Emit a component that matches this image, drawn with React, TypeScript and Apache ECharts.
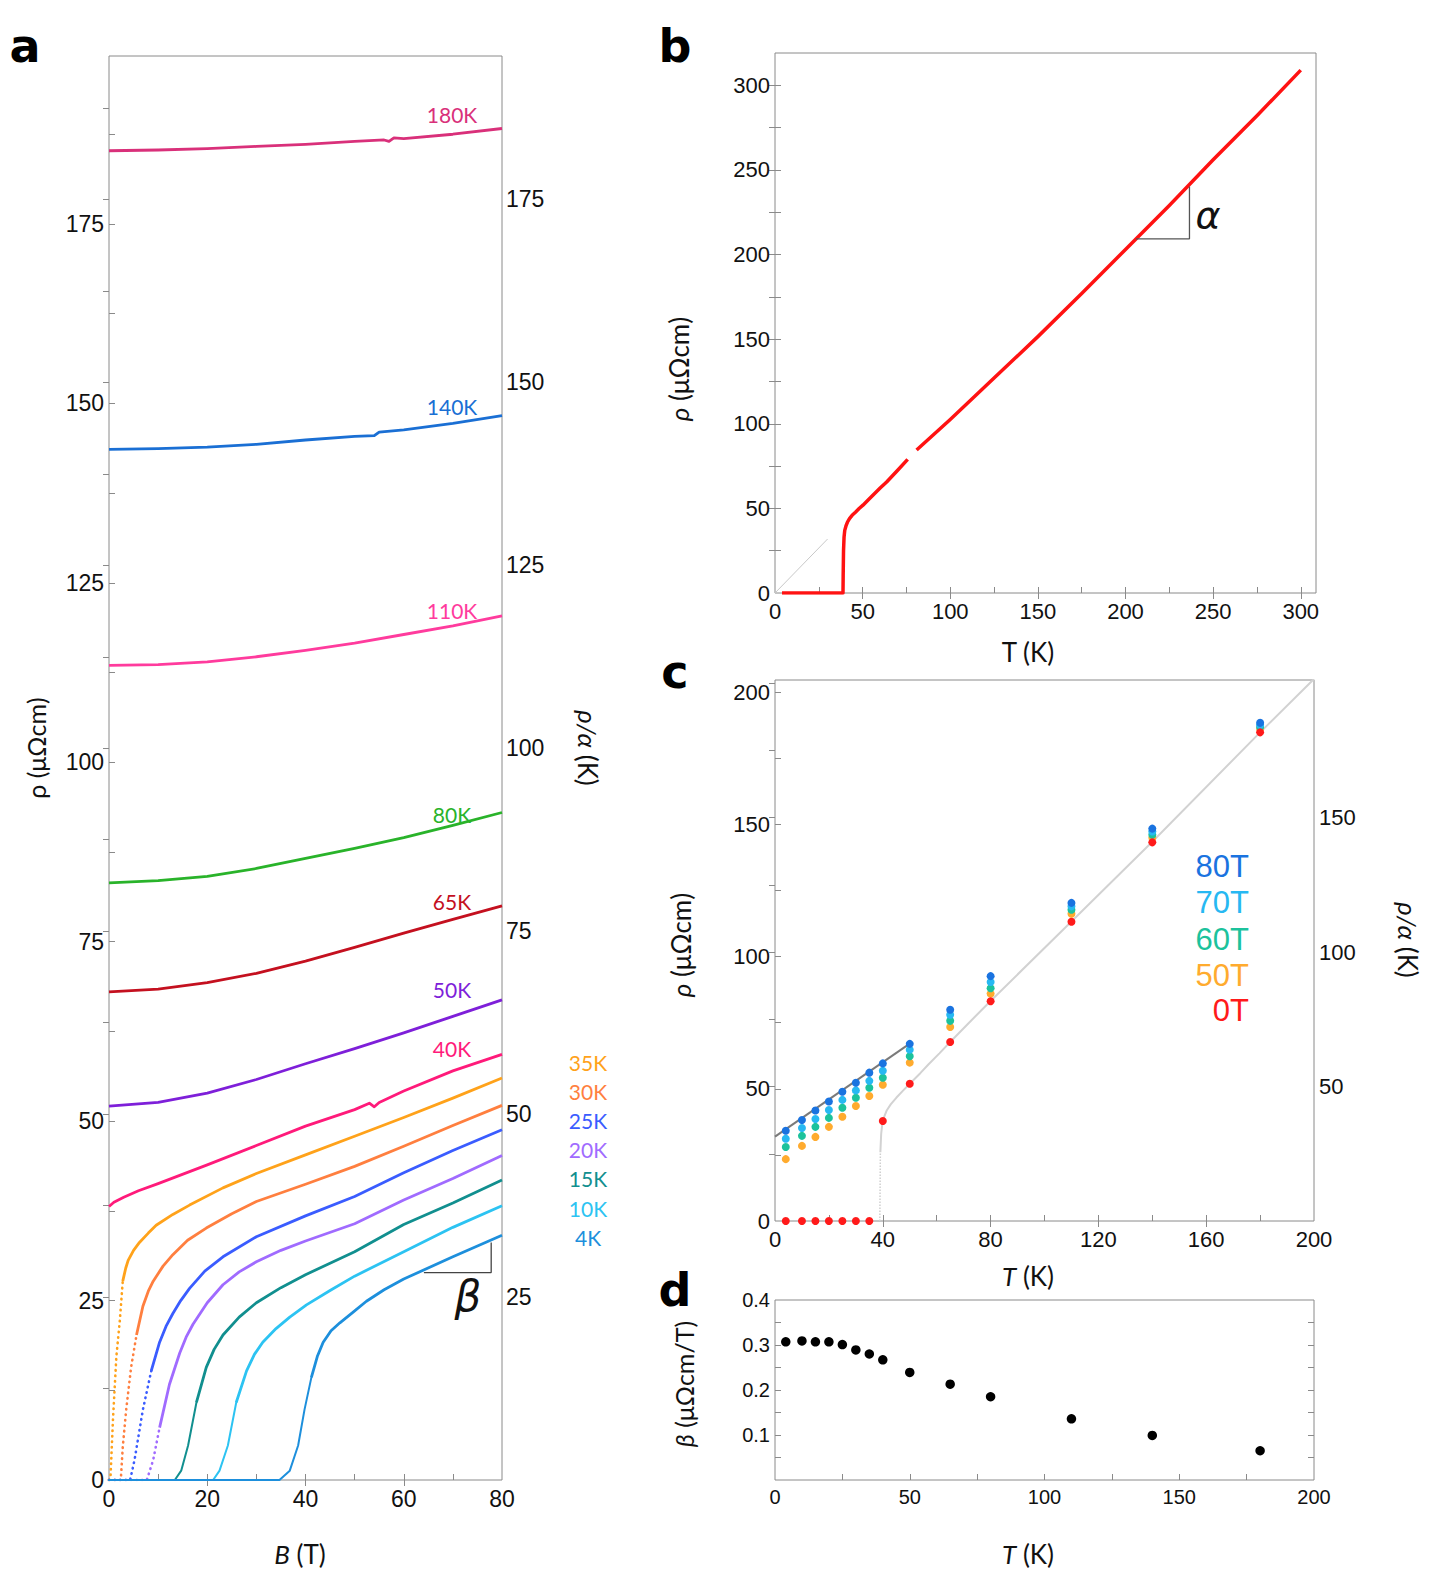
import React, { useEffect, useRef } from 'react';
import * as echarts from 'echarts';

const W = 1442;
const H = 1584;

// ---------- Panel a : rho vs B at fixed T ----------
const aCurve180: number[][] = [[0,185.2],[10,185.3],[20,185.5],[30,185.8],[40,186.1],[50,186.5],[56,186.7],[57,186.5],[58,187.0],[60,186.9],[70,187.5],[80,188.3]];
const aCurve140: number[][] = [[0,143.6],[10,143.7],[20,143.9],[30,144.3],[40,144.9],[50,145.4],[54,145.5],[55,146.0],[60,146.3],[70,147.2],[80,148.3]];
const aCurve110: number[][] = [[0,113.5],[10,113.6],[20,114.0],[30,114.7],[40,115.6],[50,116.6],[60,117.8],[70,119.0],[80,120.4]];
const aCurve80: number[][] = [[0,83.2],[10,83.5],[20,84.1],[30,85.2],[40,86.6],[50,88.0],[60,89.5],[70,91.2],[80,93.0]];
const aCurve65: number[][] = [[0,68.0],[10,68.4],[20,69.3],[30,70.6],[40,72.3],[50,74.2],[60,76.2],[70,78.1],[80,80.0]];
const aCurve50: number[][] = [[0,52.1],[10,52.6],[20,53.9],[30,55.8],[40,58.0],[50,60.1],[60,62.3],[70,64.6],[80,66.9]];
const aCurve40: number[][] = [[0,38.1],[1,38.7],[3,39.4],[6,40.3],[10,41.3],[20,43.9],[30,46.6],[40,49.3],[50,51.6],[53,52.5],[54,52.0],[55,52.6],[60,54.2],[70,57.0],[80,59.3]];
const aCurve35: number[][] = [[0,0],[0.3,0.3],[0.8,8.3],[1.5,17.2],[2.2,22.2],[2.8,27.7],[3.4,29.5],[3.9,30.6],[5,32.0],[6.2,33.1],[8,34.4],[9.6,35.5],[13,37.0],[16.4,38.3],[23.2,40.7],[30,42.7],[40,45.3],[50,47.9],[60,50.5],[70,53.2],[80,56.0]];
const aCurve30: number[][] = [[0,0],[2.4,0],[2.8,4.6],[3.5,9.8],[4.5,15.7],[5.6,20.2],[6.9,24.2],[8,26.3],[9,27.7],[11,29.8],[13,31.4],[16,33.4],[19.8,35.1],[25,37.1],[30,38.8],[40,41.2],[50,43.7],[60,46.5],[70,49.4],[80,52.2]];
const aCurve25: number[][] = [[0,0],[4.3,0],[5.2,2.8],[6.9,9.8],[8.6,15.2],[10.3,19.2],[11.6,21.4],[13,23.2],[14.6,25.0],[16.4,26.7],[19.5,29.1],[23.2,31.1],[30,33.9],[40,36.8],[50,39.5],[60,42.8],[70,45.9],[80,48.8]];
const aCurve20: number[][] = [[0,0],[7.7,0],[9,2.8],[10.3,7.3],[12.3,13.3],[14.4,17.7],[15.7,19.9],[17.1,21.7],[20,24.7],[23.2,27.2],[26.5,29.0],[30,30.4],[35,32.0],[40,33.3],[50,35.7],[60,39.0],[70,42.0],[80,45.2]];
const aCurve15: number[][] = [[0,0],[13.4,0],[14.7,1.3],[16.1,4.8],[17.8,10.8],[19.8,15.7],[21.4,18.2],[23.2,20.2],[26.5,22.7],[30,24.7],[35,26.8],[40,28.6],[50,31.8],[60,35.6],[70,38.6],[80,41.8]];
const aCurve10: number[][] = [[0,0],[21.2,0],[22.5,1.3],[24.2,4.8],[25.9,10.8],[28,15.2],[29.6,17.5],[31.3,19.2],[34,21.1],[36.8,22.7],[40.2,24.4],[45,26.4],[50,28.4],[60,31.8],[70,35.2],[80,38.2]];
const aCurve4: number[][] = [[0,0],[34.7,0],[36.8,1.3],[38.5,4.8],[39.8,9.8],[41.2,14.3],[42.4,17.2],[43.6,19.2],[45.2,20.8],[47,21.9],[49.7,23.4],[52.4,24.9],[56,26.5],[60,28.0],[70,31.1],[80,34.1]];
const aBetaMark: number[][] = [[64.1,28.9],[77.8,28.9],[77.8,33.1]];

const aNames = ['180K','140K','110K','80K','65K','50K','40K','35K','30K','25K','20K','15K','10K','4K'];
const aColors = ['#d9307a','#1a6fd4','#ff3b9d','#29b32a','#c4101f','#7e1fd9','#ff1a7a','#ffa21a','#ff7f3f','#3a5cff','#a06bff','#118f8f','#2cc3f2','#1d8fdc'];
const aCurves = [aCurve180,aCurve140,aCurve110,aCurve80,aCurve65,aCurve50,aCurve40,aCurve35,aCurve30,aCurve25,aCurve20,aCurve15,aCurve10,aCurve4];
// index (within each curve) where the sparse, dotted-looking steep onset ends; 0 = none
const aSteepEnd = [0,0,0,0,0,0,0,5,5,4,3,4,4,5];

const aXLabels = [0,20,40,60,80];
const aXTicks = [10,20,30,40,50,60,70];
const aTopTicks = [20,40,60];
const aYLabels = [0,25,50,75,100,125,150,175];
const aYTicks = [12.5,25,37.5,50,62.5,75,87.5,100,112.5,125,137.5,150,162.5,175,187.5];
const aY2Labels = [25,50,75,100,125,150,175];
const aY2Ticks = [12.5,25,37.5,50,62.5,75,87.5,100,112.5,125,137.5,150,162.5,175,187.5];

// ---------- Panel b : rho vs T at 0 T ----------
const bLow: number[][] = [[4,0],[20,0],[38.8,0],[38.9,10],[39.1,25],[39.4,33],[39.8,37.0],[40.5,39.6],[41.3,41.8],[42.5,44.0],[44,45.9],[45.9,47.7],[48,49.9],[50.2,51.9],[53,54.8],[56,57.9],[60,62.0],[63.7,65.6],[70,72.5],[75.7,79.0]];
const bHigh: number[][] = [[80.8,84.5],[100,102.5],[125,127],[150,151.5],[175,177],[200,203],[225,229],[250,256],[275,282],[300,309]];
const bGuide: number[][] = [[0,0],[30,31.9]];
const bAlphaMark: number[][] = [[206,209.3],[236.5,209.3],[236.5,240.2]];
const bXLabels = [0,50,100,150,200,250,300];
const bXTicks = [25,50,75,100,125,150,175,200,225,250,275,300];
const bTopTicks = [50,100,150,200,250,300];
const bYLabels = [0,50,100,150,200,250,300];
const bYTicks = [25,50,75,100,125,150,175,200,225,250,275,300];

// ---------- Panel c : rho vs T at fixed B ----------
const cT = [4,10,15,20,25,30,35,40,50,65,80,110,140,180];
const c80T = [34.1,38.2,41.8,45.2,48.9,52.3,56.1,59.6,67.0,79.9,92.6,120.3,148.4,188.4];
const c70T = [31.1,35.2,38.6,42.0,45.8,49.4,53.0,56.8,64.8,78.0,90.4,119.0,147.3,187.6];
const c60T = [28.0,32.2,35.6,39.0,42.8,46.6,50.4,54.2,62.3,75.7,88.0,117.7,146.1,186.8];
const c50T = [23.4,28.4,31.8,35.6,39.4,43.5,47.3,51.5,59.9,73.4,86.0,116.2,144.9,186.1];
const c0T = [0,0,0,0,0,0,0,37.8,51.9,67.7,83.1,113.2,143.2,184.8];
const cZeroFieldDotted: number[][] = [[38.9,0],[39.1,26]];
const cZeroFieldLine: number[][] = [[39.1,26],[39.4,33],[39.8,36.6],[40.5,39.4],[41.5,41.9],[43,44.2],[45,46.6],[47.5,49.3],[50,51.9],[54,56.0],[57,59.3],[61,63.4],[65,67.7],[72,75.0],[80,83.2],[110,113.3],[140,143.4],[180,184.8],[200,205]];
const cFitLine: number[][] = [[0,31.9],[50,67.1]];
const cXLabels = [0,40,80,120,160,200];
const cXTicks = [20,40,60,80,100,120,140,160,180];
const cTopTicks = [40,80,120,160];
const cYLabels = [0,50,100,150,200];
const cYTicks = [25,50,75,100,125,150,175,200];
const cY2Labels = [50,100,150];
const cY2Ticks = [25,50,75,100,125,150,175,200];
const cFieldNames = ['80T','70T','60T','50T','0T'];
const cFieldColors = ['#1a73e0','#27b8f2','#1cc29c','#ffab2e','#ff1a1a'];

// ---------- Panel d : beta vs T ----------
const dT = [4,10,15,20,25,30,35,40,50,65,80,110,140,180];
const dBeta = [0.307,0.309,0.307,0.307,0.301,0.289,0.280,0.267,0.239,0.213,0.185,0.136,0.099,0.065];
const dXLabels = [0,50,100,150,200];
const dXTicks = [25,50,75,100,125,150,175];
const dYLabels = [0.1,0.2,0.3,0.4];
const dYTicks = [0.05,0.1,0.15,0.2,0.25,0.3,0.35];

const FT = "'Liberation Sans', Arial, Helvetica, sans-serif";
const FN = "'Liberation Sans Narrow', 'Liberation Sans', Arial, sans-serif";
const FL = "Lato, 'Open Sans', 'Liberation Sans', sans-serif";
const AX = '#8a8a8a';

function axis(gridIndex: number, min: number, max: number, position: string,
  labels: number[] | null, ticks: number[], font: string, fontSize: number, margin: number, fmt?: (v: number) => string) {
  const a: any = {
    type: 'value', gridIndex, min, max, position,
    axisLine: { show: false },
    splitLine: { show: false },
    axisTick: { show: true, inside: true, length: 6, lineStyle: { color: AX, width: 1 }, customValues: ticks },
    axisLabel: labels
      ? { show: true, customValues: labels, color: '#111', fontSize, fontFamily: font, margin, formatter: fmt ? fmt : (v: number) => String(v) }
      : { show: false },
  };
  return a;
}

function pairs(xs: number[], ys: number[]) {
  return xs.map((x, i) => [x, ys[i]]);
}

function txt(x: number, y: number, text: string, size: number, color: string, font: string, opts: any = {}) {
  return {
    type: 'text', x, y, rotation: opts.rotation || 0, silent: true, z: 100,
    style: {
      text, fill: color, fontSize: size, fontFamily: font,
      fontStyle: opts.italic ? 'italic' : 'normal', fontWeight: opts.bold ? 'bold' : 'normal',
      align: opts.align || 'center', verticalAlign: 'middle',
      rich: opts.rich,
    },
  };
}

const richIt = (size: number, font: string) => ({
  i: { fontStyle: 'italic', fontSize: size, fontFamily: font, fill: '#111' },
  n: { fontSize: size, fontFamily: font, fill: '#111' },
});

export default function App() {
  const ref = useRef<HTMLDivElement>(null);

  useEffect(() => {
    if (!ref.current) return;
    const chart = echarts.init(ref.current, null, { renderer: 'svg' });

    const grids = [
      { left: 109, top: 56, width: 393, height: 1424 },
      { left: 775, top: 53, width: 541, height: 540 },
      { left: 775, top: 680, width: 539, height: 541 },
      { left: 775, top: 1300, width: 539, height: 180 },
    ].map(g => ({ ...g, show: true, borderColor: AX, borderWidth: 1, backgroundColor: 'transparent', containLabel: false }));

    const xAxis = [
      axis(0, 0, 80, 'bottom', aXLabels, aXTicks, FT, 23, 7),
      axis(0, 0, 80, 'top', null, aTopTicks, FT, 23, 8),
      axis(1, 0, 308.7, 'bottom', bXLabels, bXTicks, FT, 22, 7),
      axis(1, 0, 308.7, 'top', null, bTopTicks, FT, 22, 8),
      axis(2, 0, 200, 'bottom', cXLabels, cXTicks, FN, 22, 7),
      axis(2, 0, 200, 'top', null, cTopTicks, FN, 22, 8),
      axis(3, 0, 200, 'bottom', dXLabels, dXTicks, FN, 20, 7),
    ];
    const yAxis = [
      axis(0, 0, 198.4, 'left', aYLabels, aYTicks, FT, 23, 5),
      axis(0, 0, 194.6, 'right', aY2Labels, aY2Ticks, FT, 23, 4),
      axis(1, 0, 319.1, 'left', bYLabels, bYTicks, FT, 22, 5),
      axis(1, 0, 319.1, 'right', null, bYTicks, FT, 22, 6),
      axis(2, 0, 204.6, 'left', cYLabels, cYTicks, FN, 22, 5),
      axis(2, 0, 201.2, 'right', cY2Labels, cY2Ticks, FN, 22, 5),
      axis(3, 0, 0.4, 'left', dYLabels, dYTicks, FN, 20, 5, (v: number) => v.toFixed(1)),
      axis(3, 0, 0.4, 'right', null, dYTicks, FN, 20, 6),
    ];

    const series: any[] = [];
    aCurves.forEach((c, i) => {
      const k = aSteepEnd[i];
      if (k > 0) {
        // flat zero part + sparse steep onset, drawn dotted
        series.push({
          type: 'line', xAxisIndex: 0, yAxisIndex: 0, data: c.slice(0, k + 1), z: 2,
          showSymbol: false, silent: true,
          lineStyle: { color: aColors[i], width: i >= 11 ? 2 : 2.6, cap: 'round', type: i >= 11 ? 'solid' : [0.5, 5] },
        });
      }
      series.push({
        type: 'line', name: aNames[i], xAxisIndex: 0, yAxisIndex: 0, data: c.slice(k), z: 2,
        showSymbol: false, smooth: false, silent: true,
        lineStyle: { color: aColors[i], width: 2.8, join: 'round' },
      });
    });
    series.push({ type: 'line', xAxisIndex: 0, yAxisIndex: 0, data: aBetaMark, showSymbol: false, z: 3,
      lineStyle: { color: '#444', width: 1.3 }, silent: true });

    // panel b
    series.push({ type: 'line', xAxisIndex: 2, yAxisIndex: 2, data: bGuide, showSymbol: false, z: 2,
      lineStyle: { color: '#c8c8c8', width: 1 }, silent: true });
    series.push({ type: 'line', xAxisIndex: 2, yAxisIndex: 2, data: bLow, showSymbol: false, z: 2,
      lineStyle: { color: '#ff1212', width: 3.5, join: 'round' }, silent: true });
    series.push({ type: 'line', xAxisIndex: 2, yAxisIndex: 2, data: bHigh, showSymbol: false, z: 2,
      lineStyle: { color: '#ff1212', width: 3.5, join: 'round' }, silent: true });
    series.push({ type: 'line', xAxisIndex: 2, yAxisIndex: 2, data: bAlphaMark, showSymbol: false, z: 3,
      lineStyle: { color: '#555', width: 1.3 }, silent: true });

    // panel c
    series.push({ type: 'line', xAxisIndex: 4, yAxisIndex: 4, data: cZeroFieldDotted, showSymbol: false, z: 1,
      lineStyle: { color: '#cfcfcf', width: 1.5, type: 'dotted' }, silent: true });
    series.push({ type: 'line', xAxisIndex: 4, yAxisIndex: 4, data: cZeroFieldLine, showSymbol: false, z: 1,
      lineStyle: { color: '#d2d2d2', width: 2, join: 'round' }, silent: true });
    series.push({ type: 'line', xAxisIndex: 4, yAxisIndex: 4, data: cFitLine, showSymbol: false, z: 1,
      lineStyle: { color: '#7a7a7a', width: 2 }, silent: true });
    const cSets = [c50T, c60T, c70T, c80T, c0T];
    const cIdx = [3, 2, 1, 0, 4];
    cSets.forEach((vals, k) => {
      series.push({ type: 'scatter', name: cFieldNames[cIdx[k]], xAxisIndex: 4, yAxisIndex: 4, data: pairs(cT, vals),
        z: 5 + k, symbol: 'circle', symbolSize: 8,
        itemStyle: { color: cFieldColors[cIdx[k]], opacity: 1, borderWidth: 0 }, silent: true });
    });

    // panel d
    series.push({ type: 'scatter', xAxisIndex: 6, yAxisIndex: 6, data: pairs(dT, dBeta), z: 5,
      symbol: 'circle', symbolSize: 9.5, itemStyle: { color: '#000', opacity: 1, borderWidth: 0 }, silent: true });

    const graphics: any[] = [
      txt(25, 46, 'a', 46, '#000', "'DejaVu Sans', sans-serif", { bold: true }),
      txt(675, 46, 'b', 46, '#000', "'DejaVu Sans', sans-serif", { bold: true }),
      txt(675, 672, 'c', 46, '#000', "'DejaVu Sans', sans-serif", { bold: true }),
      txt(675, 1290, 'd', 46, '#000', "'DejaVu Sans', sans-serif", { bold: true }),
      // panel a texts
      txt(36, 748, 'ρ (μΩcm)', 25, '#111', FL, { rotation: Math.PI / 2 }),
      txt(588, 748, '{i|ρ/α} {n|(K)}', 26, '#111', FL, { rotation: -Math.PI / 2, rich: richIt(26, FL) }),
      txt(300, 1554, '{i|B} {n|(T)}', 26, '#111', FL, { rich: richIt(26, FL) }),
      txt(468, 1296, 'β', 42, '#111', "'DejaVu Sans', sans-serif", { italic: true }),
      // panel b texts
      txt(679, 369, '{i|ρ} {n|(μΩcm)}', 26, '#111', FL, { rotation: Math.PI / 2, rich: richIt(26, FL) }),
      txt(1028, 652, 'T (K)', 26, '#111', FL),
      txt(1208, 215, 'α', 38, '#111', "'DejaVu Sans', sans-serif", { italic: true }),
      // panel c texts
      txt(681, 945, '{i|ρ} {n|(μΩcm)}', 26, '#111', FL, { rotation: Math.PI / 2, rich: richIt(26, FL) }),
      txt(1408, 940, '{i|ρ/α} {n|(K)}', 26, '#111', FL, { rotation: -Math.PI / 2, rich: richIt(26, FL) }),
      txt(1028, 1276, '{i|T} {n|(K)}', 26, '#111', FL, { rich: richIt(26, FL) }),
      // panel d texts
      txt(684, 1384, '{i|β} {n|(μΩcm/T)}', 25, '#111', FL, { rotation: Math.PI / 2, rich: richIt(25, FL) }),
      txt(1028, 1554, '{i|T} {n|(K)}', 26, '#111', FL, { rich: richIt(26, FL) }),
    ];
    // curve labels inside panel a
    const aLabelY = [114, 406, 610, 814, 901, 989, 1048];
    aLabelY.forEach((y, i) => graphics.push(txt(452, y, aNames[i], 21, aColors[i], FL)));
    // low temperature labels outside panel a
    const aLowY = [1062, 1091, 1120, 1149, 1178, 1208, 1237];
    aLowY.forEach((y, k) => graphics.push(txt(588, y, aNames[7 + k], 21, aColors[7 + k], FL)));
    // legend of panel c
    const cLegY = [866, 902, 939, 975, 1010];
    cLegY.forEach((y, k) => graphics.push(txt(1249, y, cFieldNames[k], 31, cFieldColors[k], FN, { align: 'right' })));

    chart.setOption({
      animation: false,
      backgroundColor: '#fff',
      grid: grids,
      xAxis,
      yAxis,
      series,
      graphic: graphics,
    });
    return () => chart.dispose();
  }, []);

  return <div ref={ref} style={{ position: 'absolute', left: 0, top: 0, width: W, height: H, background: '#fff' }} />;
}
